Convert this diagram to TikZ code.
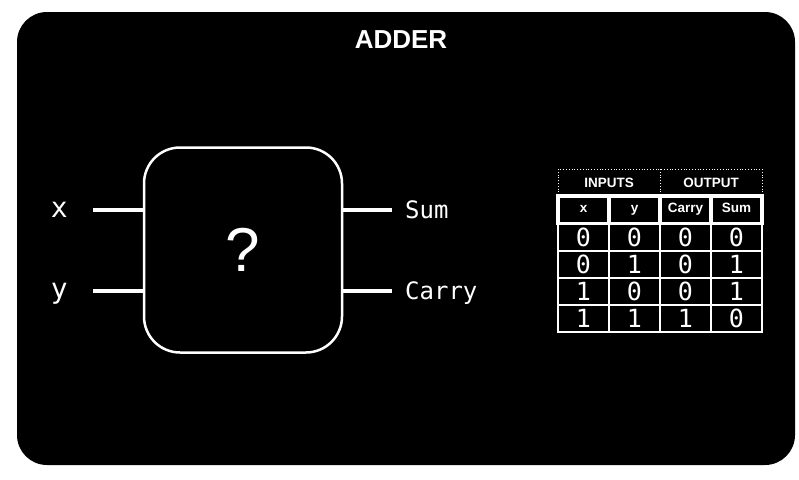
\documentclass[tikz,border=0pt]{standalone}
\usepackage{fontspec}
\setmainfont{Liberation Sans}
\setmonofont{DejaVu Sans Mono}
\usetikzlibrary{matrix,positioning,calc}
\tikzset{
    wire/.style={draw=white,line width=4.5pt},
    gate/.style={draw=white,line width=2.5pt,rounded corners=36pt,
        minimum width=198pt,minimum height=205pt,inner sep=0pt,
        text=white,font=\fontsize{62}{64}\selectfont},
    pin/.style={text=white,inner sep=0pt,font=\fontsize{28}{30}\selectfont\ttfamily},
    port/.style={text=white,inner sep=0pt,font=\fontsize{24}{26}\selectfont\ttfamily},
    hdr/.style={text=white,inner sep=0pt,font=\fontsize{13.5}{15}\selectfont\bfseries},
    T/.style={
        matrix of nodes,
        inner sep=0pt,outer sep=0pt,
        nodes={text=white,minimum width=51pt,minimum height=27.2pt,inner sep=0pt,
            anchor=center,font=\fontsize{25}{27}\selectfont\ttfamily},
        nodes in empty cells,
        column sep=0pt,row sep=0pt,
        row 2/.style={nodes={font=\fontsize{13.5}{15}\selectfont\bfseries,
            text height=1.5ex,text depth=0.4ex}},
    }
}
\begin{document}
\begin{tikzpicture}[x=1pt,y=-1pt]
    \useasboundingbox (0,0) rectangle (799,479);
    \fill[black,rounded corners=30pt] (17,12) rectangle (795,465);
    \node[text=white,font=\fontsize{26}{28}\selectfont\bfseries] (title) at (401,40) {ADDER};

    \node[gate] (G) at (243,250) {?};
    \coordinate (xin) at (93,210);
    \coordinate (yin) at (93,291);
    \coordinate (sout) at (392,210);
    \coordinate (cout) at (392,291);
    \draw[wire] (xin) -- (xin -| G.west);
    \draw[wire] (yin) -- (yin -| G.west);
    \draw[wire] (sout -| G.east) -- (sout);
    \draw[wire] (cout -| G.east) -- (cout);
    \node[pin,anchor=base east] (x) at ($(xin)+(-25,7)$) {x};
    \node[pin,anchor=base east] (y) at ($(yin)+(-25,7)$) {y};
    \node[port,anchor=base west] (sum) at ($(sout)+(13,8)$) {Sum};
    \node[port,anchor=base west] (carry) at ($(cout)+(13,8)$) {Carry};

    \matrix[T,anchor=north west] at (558,169) (TT){ % truth table
          &   &       &     \\
        x & y & Carry & Sum \\
        0 & 0 & 0 & 0 \\
        0 & 1 & 0 & 1 \\
        1 & 0 & 0 & 1 \\
        1 & 1 & 1 & 0 \\
    };
    \node[hdr] (inputs) at ($(TT-1-1)!.5!(TT-1-2)$) {INPUTS};
    \node[hdr] (output) at ($(TT-1-3)!.5!(TT-1-4)$) {OUTPUT};

    \draw[white,dotted,line width=0.8pt] (TT-1-1.north west) rectangle (TT-1-4.south east)
        (TT-1-3.north west) -- (TT-1-3.south west);
    \draw[white,line width=1.8pt] (TT-3-1.north west) rectangle (TT-6-4.south east);
    \foreach \r in {4,5,6}{\draw[white,line width=1.8pt] (TT-\r-1.north west) -- (TT-\r-4.north east);}
    \foreach \c in {2,3,4}{\draw[white,line width=1.8pt] (TT-3-\c.north west) -- (TT-6-\c.south west);}
    \draw[white,line width=3.5pt] (TT-2-1.north west) rectangle (TT-2-4.south east);
    \foreach \c in {2,3,4}{\draw[white,line width=3.5pt] (TT-2-\c.north west) -- (TT-2-\c.south west);}
\end{tikzpicture}
\end{document}
